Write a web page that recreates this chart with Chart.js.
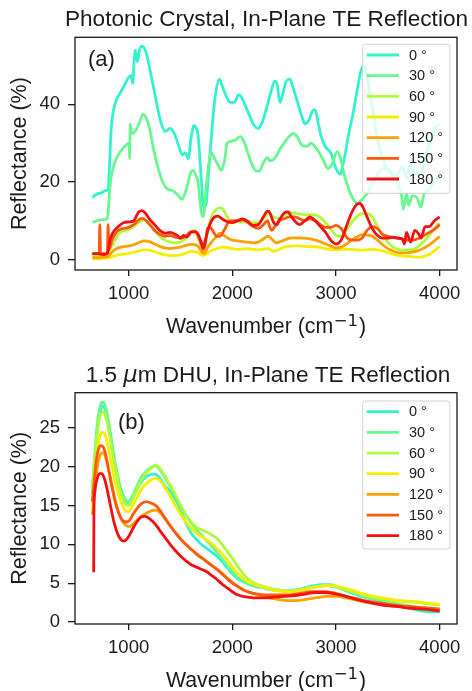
<!DOCTYPE html>
<html>
<head>
<meta charset="utf-8">
<script src="https://cdn.jsdelivr.net/npm/chart.js@4.4.0/dist/chart.umd.min.js"></script>
<style>
  html, body { margin: 0; padding: 0; background: #fff; }
  #wrap { position: relative; width: 472px; height: 691px; }
  #chartA { position: absolute; left: 0; top: 0; }
  #chartB { position: absolute; left: 0; top: 340px; }
</style>
</head>
<body>
<div id="wrap">
  <canvas id="chartA" width="472" height="340"></canvas>
  <canvas id="chartB" width="472" height="351"></canvas>
</div>
<script>
// angles and colours shared by both panels
const angles = [0, 30, 60, 90, 120, 150, 180];
const colors = ['#33f3cf', '#68f890', '#aaff3a', '#f6ee00', '#ffa100', '#ff5a0c', '#f01212'];

const xMin = 482.5, xMax = 4167.5;
const xTicks = [1000, 2000, 3000, 4000];
const yTicksA = [0, 20, 40];
const yTicksB = [0, 5, 10, 15, 20, 25];

// (a) photonic crystal, wavenumber / reflectance per angle
const pcWave0 = [650,700,740,780,800,815,830,850,880,920,960,1000,1020,1040,1050,1065,1085,1105,1130,1160,1190,1220,1250,1280,1310,1350,1400,1440,1480,1520,1550,1575,1600,1630,1650,1670,1690,1705,1720,1745,1765,1790,1815,1840,1875,1900,1935,1980,2020,2060,2085,2120,2160,2200,2250,2290,2330,2370,2410,2430,2460,2490,2520,2555,2590,2630,2670,2700,2740,2780,2800,2830,2860,2900,2950,3000,3040,3080,3120,3160,3200,3240,3270,3290,3320,3360,3400,3440,3480,3520,3560,3600,3640,3680,3720,3760,3800,3840,3880,3920,3960,4000];
const pcRefl0 = [16,17,17.2,17.8,18,24,33,38,41,43,45,47,47.5,45.5,50,54,51,54,55,54,51,47,43,39,35.5,33,33.8,32.5,29.5,27,27.5,26,31,34.5,34,32,25,19,13.5,14,20,29,37,43,46.5,45,42.5,40.5,40.5,42.5,42,40,37.5,35,33.8,35.5,39,43,46,45.5,40.5,43,46,46.5,44,40.5,37,35,36,38.5,38.5,35,31.5,29,27.5,23.5,22,26,32,37,43,48.5,50,49,44,37.5,31,27,24,22.5,21.5,22,24,21,25,22,22,24,28,31,34,35];

const pcWave30 = [650,700,750,790,800,815,830,860,900,950,990,1005,1010,1015,1030,1060,1100,1140,1170,1200,1240,1280,1320,1360,1400,1440,1480,1510,1540,1570,1600,1625,1650,1670,1690,1710,1725,1745,1770,1800,1830,1860,1895,1925,1950,1990,2030,2075,2110,2150,2190,2230,2260,2300,2340,2360,2380,2420,2460,2500,2540,2590,2630,2670,2720,2760,2800,2840,2880,2920,2950,2980,3010,3040,3070,3100,3140,3180,3210,3250,3300,3350,3400,3450,3500,3550,3600,3630,3650,3680,3700,3740,3780,3820,3850,3880,3920,3960,4000];
const pcRefl30 = [9.6,10,10.3,10.5,11.5,17,21,24.5,27,28.8,29.8,30,26,35,32.5,33,35,37.5,36.5,34,28.5,24,20.5,18.5,18,17.5,16.5,15.5,16.8,19.5,22.5,23,21.5,20,14.5,11,11.5,18,24,27.5,26,24.5,23,25.5,30,30.5,30.8,31.7,30.5,27.5,24.5,22.8,22.8,25,26.3,25.5,25.5,26.5,28.5,30,31.5,32.5,31.5,29.5,29.2,30,29,27.5,25.5,23.5,24,26,27.8,26.5,23,20,17,15,14.5,15.5,17,19.5,22,23.5,23.5,22,19,17,13,17,14,16.5,16,13.5,17,17.5,19,20.5,21.4];

const pcWave60 = [650,700,750,800,830,870,920,970,1020,1070,1120,1150,1200,1250,1300,1350,1400,1450,1500,1550,1600,1640,1680,1710,1730,1760,1800,1840,1880,1910,1940,1980,2030,2100,2150,2200,2250,2300,2350,2400,2450,2500,2550,2600,2650,2700,2750,2800,2850,2900,2950,3000,3050,3100,3150,3200,3250,3300,3350,3400,3450,3500,3550,3600,3650,3700,3750,3800,3850,3900,3950,4000];
const pcRefl60 = [1,1,1.2,1.5,3,5,7,7.5,8,9,10,10.2,9,7.5,6,5,4.5,4.3,4.5,5.5,7,7.5,5,2.8,3,7,11,12.8,13.3,13,11.5,10,9.8,9.6,9.8,9.5,9.5,10.5,12,11,10.5,11.5,12,12,11.8,11.5,11.6,11.5,10.8,9.5,7.8,6.2,6,7.5,9.5,11,11.8,11.8,11,8.5,6.3,4.5,3.2,2.6,2.4,2.5,2.6,3.5,4.8,6.2,8,9.4];

const pcWave90 = [650,700,750,800,850,900,950,1000,1050,1100,1150,1200,1250,1300,1350,1400,1450,1500,1550,1600,1650,1700,1720,1750,1800,1850,1900,1950,2000,2050,2100,2150,2200,2250,2300,2350,2400,2450,2500,2550,2600,2650,2700,2750,2800,2850,2900,2950,3000,3050,3100,3150,3200,3250,3300,3350,3400,3450,3500,3550,3600,3650,3700,3750,3800,3850,3900,3950,4000];
const pcRefl90 = [0.2,0.2,0.3,0.4,0.8,1.2,1.4,1.6,1.9,2.2,2.5,2.4,2,1.6,1.2,1,1,1.2,1.6,2.1,2,1.2,1,1.5,2.3,2.8,3.2,3.1,2.8,2.6,2.7,2.8,2.6,2.5,2.7,2.8,2.1,2.6,3.2,3.4,3.5,3.5,3.4,3.3,3.3,3.1,2.8,2.6,2.5,2.6,2.7,2.6,2.5,2.4,2.5,2.6,2.5,2.2,1.8,1.4,1.1,0.9,0.8,0.7,0.6,0.8,1.3,2.3,3.4];

const pcWave120 = [650,700,750,800,850,900,950,1000,1050,1100,1150,1200,1250,1300,1350,1400,1450,1500,1550,1600,1650,1680,1710,1730,1760,1800,1850,1880,1920,1960,2000,2050,2100,2150,2200,2250,2300,2340,2360,2390,2420,2450,2500,2550,2600,2650,2700,2750,2800,2850,2900,2950,3000,3050,3100,3150,3200,3250,3300,3350,3400,3450,3500,3550,3600,3650,3700,3750,3800,3850,3900,3950,4000];
const pcRefl120 = [0.5,0.5,0.6,0.8,2.2,3,3.3,3.5,3.8,4.4,4.8,4.6,4,3.4,3,2.8,3,3.2,3.6,3.9,3.8,3,1.8,1.6,3,4.5,6,6.8,6.2,5.5,5,4.8,4.6,4.5,4.3,4.5,5.3,6,5.8,5,4.3,4.5,5,5.5,5.6,5.5,5.5,5.3,5,4.6,4,3.5,3,3.2,4,5,5.8,6.4,6.3,6,5,3.8,2.8,2.2,1.8,1.7,1.8,2,2.4,3,3.8,4.8,6];

const pcWave150 = [650,690,715,722,729,760,795,802,809,840,870,900,950,1000,1050,1100,1130,1170,1210,1250,1300,1350,1400,1450,1500,1550,1600,1650,1680,1700,1720,1740,1760,1790,1820,1850,1880,1920,1960,2000,2050,2100,2150,2200,2250,2300,2340,2360,2380,2410,2450,2500,2550,2600,2650,2700,2750,2800,2850,2900,2950,3000,3050,3100,3150,3200,3250,3300,3350,3400,3450,3500,3550,3600,3650,3700,3750,3800,3850,3900,3950,4000];
const pcRefl150 = [1.5,1.5,1.5,9,1.5,1.5,1.7,9,2.5,5,6.5,7.5,8,8.3,9,10.3,10.6,10,8.8,7.5,6.5,6,6.2,5.8,5.5,6,7.2,7,5.5,4,2.5,4,8,8.3,7,6,6,7.5,9.5,10,10,10.2,9.5,8.5,8,9,10,8.5,7.5,8.5,10,10.5,11,11,10.5,10,10.5,10,9,8.3,8.3,8.8,8,5.8,5,5,5.5,7.5,8.5,8,6.5,6,5.7,5.5,5.2,5,5,5.5,6.2,7,7.8,9];

const pcWave180 = [650,700,750,790,800,820,850,900,950,1000,1050,1080,1100,1130,1160,1200,1250,1300,1350,1400,1450,1480,1500,1530,1560,1600,1640,1670,1700,1720,1740,1770,1800,1830,1860,1900,1950,2000,2050,2100,2150,2200,2250,2300,2330,2350,2370,2400,2430,2460,2500,2540,2560,2600,2650,2700,2750,2780,2800,2850,2900,2950,3000,3050,3100,3150,3200,3230,3260,3300,3350,3400,3450,3500,3550,3600,3640,3660,3680,3720,3760,3800,3820,3860,3900,3950,4000];
const pcRefl180 = [1.5,1.5,1.3,1.5,2,5,7,8.5,9.5,9.7,10,11.5,12.3,12.6,12,10.5,9,7.5,6.8,7,6.5,6,5.5,6.2,5.8,7,7.2,6.5,4.5,3,5,8,10,11,11.2,10.5,9.8,9.5,10,10.5,9.8,8.8,9,11,12.3,12.5,11.5,9.5,9,10.5,12,12.3,11.5,10,9,10,11,10.5,10,8.5,7,5,4,5,8.5,12,14.2,14.5,13.5,11,8,6.2,5.5,5.5,5.8,5.5,5.3,4,7,4.5,7.5,6.5,5.5,8.5,8.5,10,11];

// (b) 1.5 um DHU
const dhuWave = [650,670,690,710,730,750,770,790,810,840,870,900,930,960,990,1010,1040,1080,1120,1170,1220,1260,1300,1350,1400,1450,1500,1550,1600,1650,1700,1750,1800,1850,1900,1950,2000,2050,2100,2150,2200,2250,2300,2350,2400,2450,2500,2550,2600,2650,2700,2750,2800,2850,2900,2950,3000,3100,3200,3300,3400,3500,3600,3700,3800,3900,4000];
const dhuRefl0 = [16.5,20,23.5,26,27.3,27.8,27.5,26.5,25,22.5,20,18,16.8,15.8,15.3,15.4,16,17,18,18.7,19,19,18.5,17.5,16.8,15.8,14.5,12.8,11.5,10.7,10,9.5,9,8.5,7.8,7,6.2,5.6,5.2,4.9,4.7,4.5,4.4,4.2,4.1,4.1,4,4.1,4.1,4.2,4.4,4.6,4.7,4.8,4.8,4.8,4.6,4,3.5,3.1,2.8,2.5,2.1,1.8,1.5,1.3,1.3];
const dhuRefl30 = [17.5,21,24.5,26.8,28,28.3,28,27,25.5,23,20.5,18.5,17,16,15.5,15.6,16.3,17.5,18.6,19.4,19.9,20.1,19.6,18.6,17.4,16.2,15,13.8,12.8,12,11.2,10.5,9.8,9,8.2,7.3,6.5,5.8,5.3,5,4.8,4.6,4.5,4.3,4.2,4.1,4,4,4.1,4.2,4.4,4.5,4.6,4.7,4.7,4.6,4.5,4,3.6,3.2,2.9,2.6,2.3,2.1,1.9,1.7,1.5];
const dhuRefl60 = [17,20.5,23.5,25.5,26.7,27,26.8,25.8,24.5,22,19.8,17.8,16.3,15.3,15,15.1,15.8,17,18.2,19.2,19.8,20.2,19.8,18.8,17.6,16.4,15,13.8,12.9,12.2,11.9,11.6,11.2,10.8,10,9.1,8.2,7.2,6.3,5.6,5.1,4.8,4.6,4.4,4.2,4.1,4,4,4,4.1,4.2,4.4,4.5,4.6,4.7,4.7,4.6,4.2,3.8,3.4,3.1,2.9,2.7,2.6,2.5,2.3,2.2];
const dhuRefl90 = [15,18,21,23,24.2,24.4,24.2,23.3,22,20,18,16.5,15.3,14.5,14.2,14.3,15,16,17,17.8,18.3,18.5,18.2,17.3,16.2,15,13.9,12.9,12.1,11.5,11,10.6,10.1,9.5,8.8,8,7.1,6.3,5.7,5.2,4.9,4.7,4.5,4.3,4.1,4,3.9,3.9,4,4.1,4.2,4.4,4.5,4.6,4.7,4.7,4.6,4.3,3.9,3.5,3.2,3,2.8,2.7,2.6,2.4,2.3];
const dhuRefl120 = [13.8,16.5,19,20.8,21.6,21.8,21.5,20.6,19.4,17.5,15.7,14.2,13.2,12.6,12.3,12.3,12.6,13.1,13.6,14,14.3,14.4,14.1,13.3,12.4,11.5,10.7,10,9.4,8.8,8.3,7.8,7.3,6.8,6.3,5.7,5.1,4.6,4.2,3.9,3.7,3.5,3.3,3.1,3,2.9,2.8,2.75,2.75,2.8,2.9,3,3.1,3.2,3.3,3.3,3.3,3.1,2.8,2.5,2.3,2.1,2,1.9,1.8,1.7,1.6];
const dhuRefl150 = [15.5,18.5,21,22.3,22.7,22.6,22,20.8,19.4,17.3,15.5,14.2,13.3,12.9,12.9,13.1,13.8,14.6,15.2,15.5,15.3,15,14.4,13.4,12.4,11.5,10.7,10,9.4,8.8,8.3,7.8,7.3,6.8,6.2,5.6,5,4.6,4.2,3.9,3.7,3.6,3.5,3.5,3.5,3.5,3.5,3.5,3.6,3.7,3.8,3.9,3.9,3.9,3.9,3.8,3.7,3.3,3,2.7,2.5,2.3,2.1,2,1.9,1.8,1.7];
const dhuWave180 = [663,665,672,680,700,720,740,760,780,800,830,860,890,920,950,970,1000,1040,1080,1120,1160,1200,1250,1300,1350,1400,1450,1500,1550,1600,1650,1700,1750,1800,1850,1900,1950,2000,2050,2100,2150,2200,2300,2400,2500,2600,2700,2800,2900,3000,3100,3200,3300,3400,3500,3600,3700,3800,3900,4000];
const dhuRefl180 = [6.4,14,16.5,17.5,18.6,19.1,19.1,18.7,17.8,16.6,14.6,12.8,11.5,10.7,10.4,10.5,11,12,12.9,13.5,13.6,13.3,12.7,11.8,10.9,10,9.2,8.5,7.9,7.4,7.1,6.8,6.5,6,5.5,4.9,4.4,3.9,3.5,3.3,3.2,3.1,3.1,3.2,3.3,3.4,3.6,3.8,3.8,3.6,3.3,2.9,2.6,2.3,2.1,2,1.8,1.7,1.6,1.4];

const FONT = '"Liberation Sans", Arial, Helvetica, sans-serif';
const MATH = '"DejaVu Sans", sans-serif';
const INK = '#1a1a1a';

// text and box placement for each panel (canvas coords)
const decor = {
  chartA: {
    title: [{t: 'Photonic Crystal, In-Plane TE Reflection'}], titleX: 266.5, titleY: 26,
    panel: '(a)', panelX: 88, panelY: 66,
    legX: 362.7, legY: 44.3, legW: 87.3, legH: 149,
    xTitleY: 333.3
  },
  chartB: {
    title: [{t: '1.5 '}, {t: '\u03bc', italic: true}, {t: 'm DHU, In-Plane TE Reflection'}], titleX: 268, titleY: 41.7,
    panel: '(b)', panelX: 118, panelY: 89,
    legX: 362.7, legY: 61, legW: 87.3, legH: 148,
    xTitleY: 346.5
  }
};

const decorPlugin = {
  id: 'decor',
  afterDatasetsDraw(chart) {
    const d = decor[chart.canvas.id];
    const ctx = chart.ctx, a = chart.chartArea;
    ctx.save();
    // axes box
    ctx.strokeStyle = INK;
    ctx.lineWidth = 1.3;
    ctx.strokeRect(a.left, a.top, a.right - a.left, a.bottom - a.top);

    // legend
    ctx.beginPath();
    ctx.roundRect(d.legX, d.legY, d.legW, d.legH, 3);
    ctx.fillStyle = 'rgba(255,255,255,0.8)';
    ctx.fill();
    ctx.strokeStyle = 'rgba(204,204,204,0.9)';
    ctx.lineWidth = 1;
    ctx.stroke();
    chart.data.datasets.forEach((ds, i) => {
      const y = d.legY + 10.7 + i * 20.67;
      ctx.strokeStyle = ds.borderColor;
      ctx.lineWidth = 2.8;
      ctx.beginPath();
      ctx.moveTo(d.legX + 4, y);
      ctx.lineTo(d.legX + 36.3, y);
      ctx.stroke();
      ctx.fillStyle = INK;
      ctx.font = '14.5px ' + FONT;
      ctx.textBaseline = 'middle';
      ctx.textAlign = 'left';
      ctx.fillText(ds.label, d.legX + 46.3, y + 0.5);
    });

    // panel label
    ctx.fillStyle = INK;
    ctx.font = '22px ' + FONT;
    ctx.textBaseline = 'alphabetic';
    ctx.fillText(d.panel, d.panelX, d.panelY);

    // title, in pieces so the mu can be italic
    const tFont = p => (p.italic ? 'italic 22.6px ' + MATH : '22.6px ' + FONT);
    const widths = d.title.map(p => { ctx.font = tFont(p); return ctx.measureText(p.t).width; });
    let x = d.titleX - widths.reduce((s, w) => s + w, 0) / 2;
    d.title.forEach((p, i) => {
      ctx.font = tFont(p);
      ctx.fillText(p.t, x, d.titleY);
      x += widths[i];
    });

    // x axis title with superscript
    const main = 'Wavenumber (cm', sup = '\u22121', end = ')';
    ctx.font = '21.3px ' + FONT;
    const w1 = ctx.measureText(main).width, w3 = ctx.measureText(end).width;
    ctx.font = '16.5px ' + MATH;
    const w2 = ctx.measureText(sup).width + 1.5;
    let cx = (a.left + a.right) / 2 - (w1 + w2 + w3) / 2;
    ctx.font = '21.3px ' + FONT;
    ctx.fillText(main, cx, d.xTitleY);
    ctx.font = '16.5px ' + MATH;
    ctx.fillText(sup, cx + w1 + 0.5, d.xTitleY - 7.5);
    ctx.font = '21.3px ' + FONT;
    ctx.fillText(end, cx + w1 + w2, d.xTitleY);
    ctx.restore();
  }
};

function makeChart(id, waves, refls, yMin, yMax, yTicks, topPad, xAxisH) {
  const datasets = angles.map((ang, i) => ({
    label: ang + ' \u00b0',
    data: waves[i].map((w, j) => ({x: w, y: refls[i][j]})),
    borderColor: colors[i],
    borderWidth: 2.8,
    pointRadius: 0,
    fill: false,
    cubicInterpolationMode: 'monotone',
    order: angles.length - i
  }));

  return new Chart(document.getElementById(id), {
    type: 'line',
    data: {datasets},
    plugins: [decorPlugin],
    options: {
      responsive: false,
      animation: false,
      devicePixelRatio: 1,
      layout: {padding: {left: 0, right: 15, top: topPad, bottom: 0}},
      plugins: {legend: {display: false}, tooltip: {enabled: false}},
      scales: {
        x: {
          type: 'linear',
          min: xMin, max: xMax,
          afterBuildTicks: s => { s.ticks = xTicks.map(v => ({value: v})); },
          afterFit: s => { s.height = xAxisH; },
          border: {display: false},
          grid: {drawOnChartArea: false, drawTicks: true, tickLength: 6, color: INK, lineWidth: 1.3},
          ticks: {color: INK, font: {family: FONT, size: 18.5}, padding: 7, maxRotation: 0, callback: v => String(v)}
        },
        y: {
          min: yMin, max: yMax,
          afterBuildTicks: s => { s.ticks = yTicks.map(v => ({value: v})); },
          afterFit: s => { s.width = 75; },
          border: {display: false},
          grid: {drawOnChartArea: false, drawTicks: true, tickLength: 7, color: INK, lineWidth: 1.3},
          ticks: {color: INK, font: {family: FONT, size: 18.5}, padding: 8, callback: v => String(v)},
          title: {display: true, text: 'Reflectance (%)', color: INK, font: {family: FONT, size: 21.5}, padding: {top: 7, bottom: 0}}
        }
      }
    }
  });
}

makeChart('chartA',
  [pcWave0, pcWave30, pcWave60, pcWave90, pcWave120, pcWave150, pcWave180],
  [pcRefl0, pcRefl30, pcRefl60, pcRefl90, pcRefl120, pcRefl150, pcRefl180],
  -2.7, 57.3, yTicksA, 37.3, 70);

makeChart('chartB',
  [dhuWave, dhuWave, dhuWave, dhuWave, dhuWave, dhuWave, dhuWave180],
  [dhuRefl0, dhuRefl30, dhuRefl60, dhuRefl90, dhuRefl120, dhuRefl150, dhuRefl180],
  -0.25, 29.5, yTicksB, 52.7, 67);
</script>
</body>
</html>
